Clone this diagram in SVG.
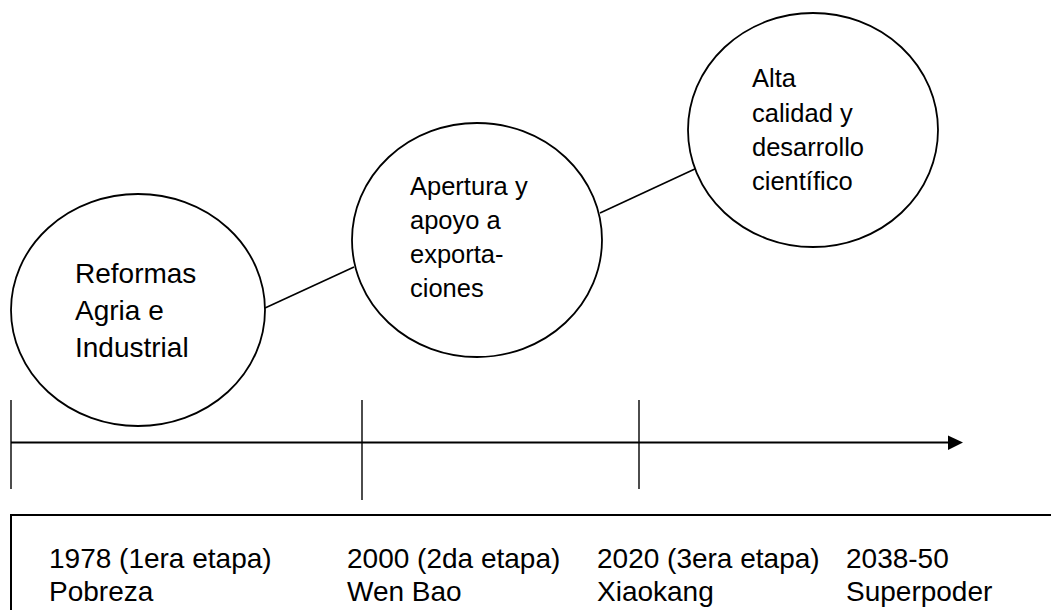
<svg xmlns="http://www.w3.org/2000/svg" width="1051" height="610" viewBox="0 0 1051 610">
<style>
.c{fill:#fff;stroke:#000;stroke-width:1.8}
.t{font-family:"Liberation Sans",Arial,sans-serif;fill:#000}
.big{font-size:28px}
.mid{font-size:25.5px}
.ln{stroke:#000;fill:none}
</style>
<defs>
<marker id="ah" markerWidth="10" markerHeight="10" refX="9" refY="5" orient="auto" markerUnits="userSpaceOnUse" viewBox="0 0 10 10">
<path d="M0,0 L10,5 L0,10 Z" fill="#000"/>
</marker>
</defs>
<rect width="1051" height="610" fill="#fff"/>
<g id="connectors">
<line class="ln" x1="265" y1="308" x2="354" y2="267" stroke-width="1.6"/>
<line class="ln" x1="600" y1="213" x2="697" y2="168" stroke-width="1.6"/>
<path d="M712,161.5 L695,162.5 L702,174 Z" fill="#000"/>
</g>
<g id="node-reformas">
<ellipse class="c" cx="138" cy="310" rx="127" ry="116"/>
<text class="t big" x="75" y="283">Reformas</text>
<text class="t big" x="75" y="320">Agria e</text>
<text class="t big" x="75" y="357">Industrial</text>
</g>
<g id="node-apertura">
<ellipse class="c" cx="477" cy="240" rx="125" ry="117"/>
<text class="t mid" x="410" y="195">Apertura y</text>
<text class="t mid" x="410" y="229">apoyo a</text>
<text class="t mid" x="410" y="263">exporta-</text>
<text class="t mid" x="410" y="297">ciones</text>
</g>
<g id="node-alta">
<ellipse class="c" cx="813" cy="130" rx="125" ry="117"/>
<text class="t mid" x="752" y="87">Alta</text>
<text class="t mid" x="752" y="122">calidad y</text>
<text class="t mid" x="752" y="156">desarrollo</text>
<text class="t mid" x="752" y="190">científico</text>
</g>
<g id="timeline">
<line class="ln" x1="11" y1="442.5" x2="949" y2="442.5" stroke-width="2"/>
<path d="M948,435.5 L963,442.5 L948,450 Z" fill="#000"/>
<line class="ln" x1="11" y1="400" x2="11" y2="489" stroke-width="1.4"/>
<line class="ln" x1="362" y1="400" x2="362" y2="500" stroke-width="1.4"/>
<line class="ln" x1="639" y1="400" x2="639" y2="489" stroke-width="1.4"/>
</g>
<g id="legend">
<rect x="11" y="515" width="1100" height="200" fill="none" stroke="#000" stroke-width="2"/>
<text class="t big" x="49" y="568">1978 (1era etapa)</text>
<text class="t big" x="49" y="601">Pobreza</text>
<text class="t big" x="347" y="568">2000 (2da etapa)</text>
<text class="t big" x="347" y="601">Wen Bao</text>
<text class="t big" x="597" y="568">2020 (3era etapa)</text>
<text class="t big" x="597" y="601">Xiaokang</text>
<text class="t big" x="846" y="568">2038-50</text>
<text class="t big" x="846" y="601">Superpoder</text>
</g>
</svg>
